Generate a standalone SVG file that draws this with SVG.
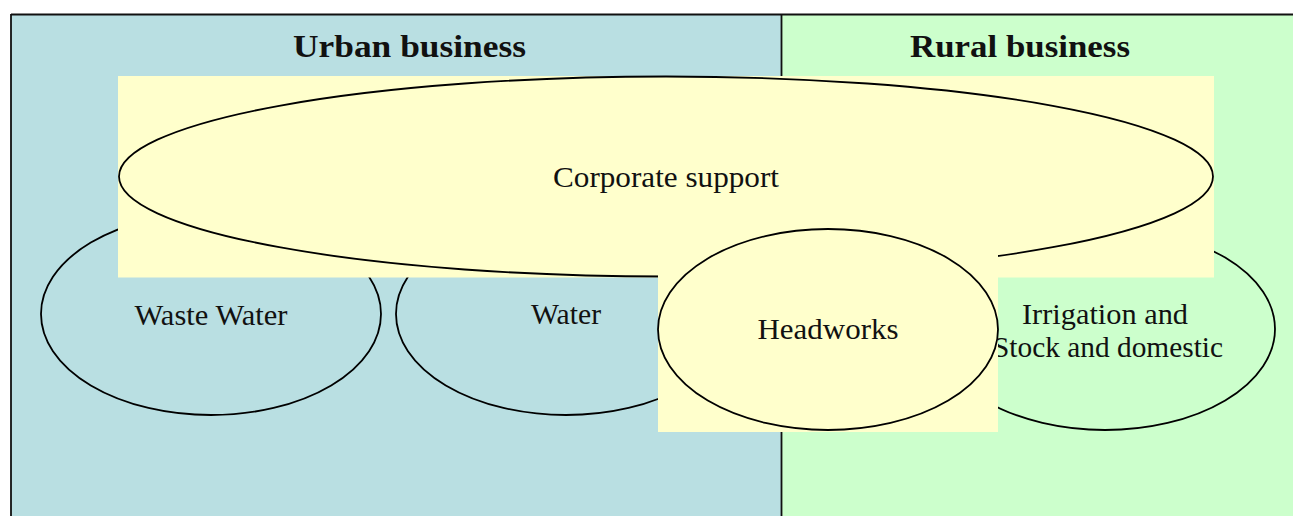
<svg xmlns="http://www.w3.org/2000/svg" width="1293" height="516" viewBox="0 0 1293 516">
<style>
.ln{stroke:#111;stroke-width:1.8;}
.el{stroke:#000;stroke-width:1.8;}
.t{font-family:"Liberation Serif","DejaVu Serif",serif;font-size:28.5px;fill:#111;text-anchor:middle;}
.h{font-family:"Liberation Serif","DejaVu Serif",serif;font-size:32px;font-weight:bold;fill:#111;}
</style>
<g id="panels">
<rect x="11" y="14.5" width="771" height="510" fill="#b9dfe2"/>
<rect x="782" y="14.5" width="512" height="510" fill="#ccffcc"/>
<line class="ln" x1="11" y1="14.5" x2="1293" y2="14.5"/>
<line class="ln" x1="11" y1="14" x2="11" y2="516"/>
<line class="ln" x1="781.5" y1="14" x2="781.5" y2="516"/>
<text class="h" x="293" y="57" textLength="233" lengthAdjust="spacingAndGlyphs">Urban business</text>
<text class="h" x="910" y="57" textLength="220" lengthAdjust="spacingAndGlyphs">Rural business</text>
</g>
<g id="waste-water">
<ellipse class="el" cx="211" cy="314" rx="170" ry="101" fill="#b9dfe2"/>
<text class="t" x="211" y="325" textLength="153" lengthAdjust="spacingAndGlyphs">Waste Water</text>
</g>
<g id="water">
<ellipse class="el" cx="566" cy="314" rx="170" ry="101" fill="#b9dfe2"/>
<text class="t" x="566" y="324" textLength="70" lengthAdjust="spacingAndGlyphs">Water</text>
</g>
<g id="irrigation">
<ellipse class="el" cx="1105" cy="329" rx="170" ry="101" fill="#ccffcc"/>
<text class="t" x="1105" y="324" textLength="166" lengthAdjust="spacingAndGlyphs">Irrigation and</text>
<text class="t" x="1108" y="357" textLength="230" lengthAdjust="spacingAndGlyphs">Stock and domestic</text>
</g>
<g id="corporate-support">
<rect x="118" y="76" width="1096" height="201.5" fill="#ffffcc"/>
<ellipse class="el" cx="666" cy="176.5" rx="547" ry="100" fill="#ffffcc"/>
<text class="t" x="666" y="187" textLength="226" lengthAdjust="spacingAndGlyphs">Corporate support</text>
</g>
<g id="headworks">
<rect x="658" y="228" width="340" height="204" fill="#ffffcc"/>
<ellipse class="el" cx="828" cy="329.5" rx="170" ry="100.5" fill="#ffffcc"/>
<text class="t" x="828" y="339" textLength="141" lengthAdjust="spacingAndGlyphs">Headworks</text>
</g>
<g id="connectors"/>
</svg>
